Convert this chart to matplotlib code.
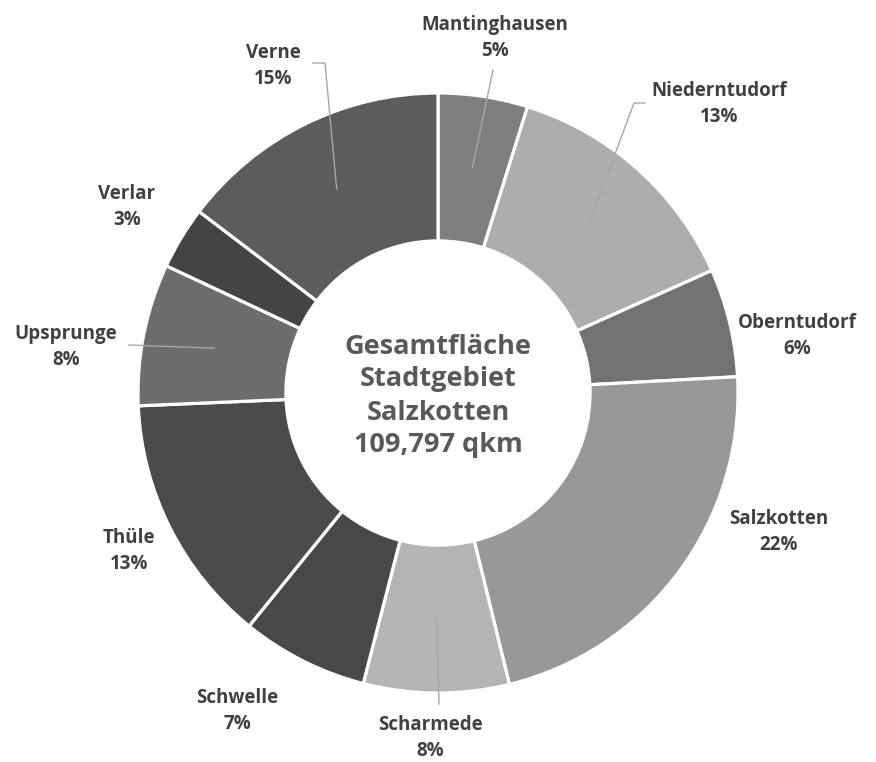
import numpy as np
import matplotlib
matplotlib.use("Agg")
import matplotlib.pyplot as plt

# ─────────────────────────────────────────────
# DATA — Flächen der Ortsteile (qkm, geschätzt)
# ─────────────────────────────────────────────
ortsteile = ["Mantinghausen", "Niederntudorf", "Oberntudorf", "Salzkotten",
             "Scharmede", "Schwelle", "Thüle", "Upsprunge", "Verlar", "Verne"]
flaechen  = [5.3, 14.8, 6.4, 24.2, 8.6, 7.5, 14.8, 8.4, 3.7, 16.097]
farben    = ["#7f7f7f", "#adadad", "#727272", "#989898", "#b4b4b4",
             "#484848", "#4b4b4b", "#6d6d6d", "#444444", "#5c5c5c"]
gesamt_text = "Gesamtfläche\nStadtgebiet\nSalzkotten\n109,797 qkm"

# label layout (data units, pie radius = 1)
PX = 300.0
def px(x, y):
    return ((x - 438) / PX, (393 - y) / PX)

label_pos = [px(495, 38), px(719, 104), px(797, 336), px(779, 532), px(430, 738),
             px(237, 711), px(129, 551), px(66, 347), px(127, 207), px(273, 66)]
# leader line end (label side); None = no leader
leader_end = [[px(493, 70)], [px(634, 103), px(645, 103)], None, None, [px(439, 704)],
              None, None, [px(129, 345)], None, [px(325, 63), px(313, 63)]]

plt.rcParams["font.family"] = ["Open Sans", "DejaVu Sans"]

fig = plt.figure(figsize=(8.76, 7.62), dpi=100)
ax = fig.add_axes([0, 0, 1, 1])

wedges, _ = ax.pie(flaechen, colors=farben, startangle=90, counterclock=False,
                   radius=1.0, wedgeprops=dict(width=0.493, edgecolor="white",
                                               linewidth=2.3))
# pie() resets limits, so set them afterwards
ax.set_xlim(-438 / PX, 438 / PX)
ax.set_ylim((393 - 762) / PX, 393 / PX)
ax.set_aspect("equal")
ax.axis("off")

total = sum(flaechen)
for i, w in enumerate(wedges):
    mid = np.deg2rad((w.theta1 + w.theta2) / 2)
    if leader_end[i] is not None:
        sx, sy = 0.76 * np.cos(mid), 0.76 * np.sin(mid)
        pts = [(sx, sy)] + leader_end[i]
        ax.plot([p[0] for p in pts], [p[1] for p in pts], color="#a6a6a6",
                lw=1.0, zorder=3)
    pct = round(flaechen[i] / total * 100)
    lx, ly = label_pos[i]
    ax.text(lx, ly, f"{ortsteile[i]}\n{pct}%", ha="center", va="center",
            fontsize=13.5, fontweight="bold", color="#404040", linespacing=1.4)

ax.text(0, -0.01, gesamt_text, ha="center", va="center", fontsize=19.5,
        fontweight="bold", color="#595959", linespacing=1.35)

fig.savefig("out.png", dpi=100)
